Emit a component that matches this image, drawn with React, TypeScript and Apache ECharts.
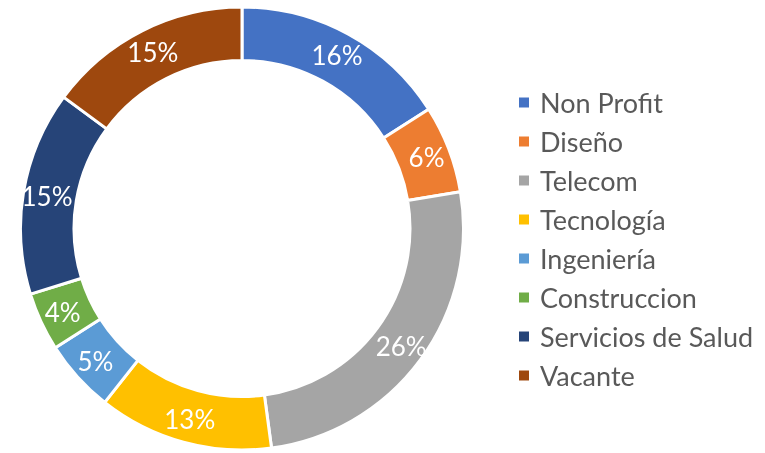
import React, { useEffect, useRef } from "react";
import * as echarts from "echarts";

const categories = [
  "Non Profit",
  "Diseño",
  "Telecom",
  "Tecnología",
  "Ingeniería",
  "Construccion",
  "Servicios de Salud",
  "Vacante",
];
const values = [15, 6, 24, 12, 5, 4, 14, 14];
const colors = ["#4472C4", "#ED7D31", "#A5A5A5", "#FFC000", "#5B9BD5", "#70AD47", "#264478", "#9E480E"];

const FONT = "Lato, 'Noto Sans', sans-serif";
const total = values.reduce((a, b) => a + b, 0);

export default function App() {
  const ref = useRef<HTMLDivElement>(null);
  useEffect(() => {
    if (!ref.current) return;
    const chart = echarts.init(ref.current, undefined, { renderer: "svg" });
    chart.setOption({
      animation: false,
      color: colors,
      legend: {
        orient: "vertical",
        left: 517,
        top: 89,
        padding: 0,
        icon: "rect",
        itemWidth: 12,
        itemHeight: 12,
        itemGap: 12,
        textStyle: {
          fontFamily: FONT,
          fontSize: 27,
          color: "#595959",
          lineHeight: 27,
          padding: [0, 0, 0, 5],
        },
        data: categories,
      },
      series: [
        {
          type: "pie",
          center: [242, 228.5],
          radius: [168, 221.5],
          startAngle: 90,
          clockwise: true,
          avoidLabelOverlap: false,
          itemStyle: { borderColor: "#ffffff", borderWidth: 3 },
          label: {
            show: true,
            position: "inside",
            formatter: (p: any) => Math.round((p.value / total) * 100) + "%",
            color: "#ffffff",
            fontFamily: FONT,
            fontSize: 26,
          },
          labelLine: { show: false },
          emphasis: { disabled: true },
          data: categories.map((name, i) => ({ name, value: values[i] })),
        },
      ],
    });
    return () => chart.dispose();
  }, []);
  return <div ref={ref} style={{ position: "fixed", left: 0, top: 0, width: 765, height: 453 }} />;
}
